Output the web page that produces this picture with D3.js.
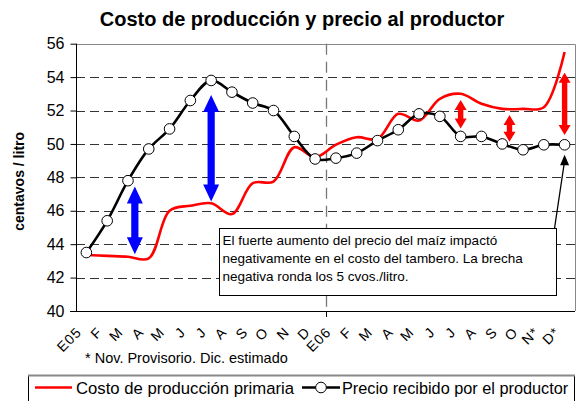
<!DOCTYPE html>
<html>
<head>
<meta charset="utf-8">
<script src="https://cdn.jsdelivr.net/npm/d3@7"></script>
<style>
  body { margin: 0; background: #fff; }
  text { font-family: Arial, "Liberation Sans", sans-serif; }
</style>
</head>
<body>
<svg width="580" height="401"></svg>
<script>
// meses (eje X)
const meses = ["E05", "F", "M", "A", "M", "J", "J", "A", "S", "O", "N", "D",
               "E06", "F", "M", "A", "M", "J", "J", "A", "S", "O", "N*", "D*"];
// centavos / litro
const costo = [43.35, 43.3, 43.25, 43.15, 46.0, 46.3, 46.45, 45.8, 47.65, 47.75, 49.8, 49.2,
               49.95, 50.4, 50.3, 51.8, 51.4, 52.7, 53.0, 52.4, 52.1, 52.1, 52.2, 55.5];
const precio = [43.5, 45.4, 47.8, 49.7, 50.9, 52.6, 53.8, 53.1, 52.45, 52.0, 50.45, 49.1,
                49.15, 49.45, 50.2, 50.85, 51.8, 51.65, 50.45, 50.45, 50.0, 49.65, 49.95, 49.95];
const yTicks = [40, 42, 44, 46, 48, 50, 52, 54, 56];
// flechas de brecha: indice de mes, valor arriba, valor abajo
const brechasAzul = [[2.33, 47.45, 43.4], [6.0, 52.93, 46.55]];
const brechasRojo = [[18.0, 52.63, 50.93], [20.35, 51.73, 50.13], [23.0, 54.26, 50.53]];

const svg = d3.select("svg");
const mLeft = 76, mRight = 575, mTop = 43.7, mBottom = 311;

const x = d3.scaleBand().domain(d3.range(meses.length)).range([mLeft, mRight]);
const cx = (i) => x(0) + x.bandwidth() / 2 + i * x.step();
const y = d3.scaleLinear().domain([40, 56]).range([mBottom, mTop]);

// title
svg.append("text")
  .attr("x", 302)
  .attr("y", 25.5)
  .attr("text-anchor", "middle")
  .attr("font-size", 20)
  .attr("font-weight", "bold")
  .text("Costo de producción y precio al productor");

// grid
svg.append("g")
  .selectAll("line")
  .data(yTicks.filter((d) => d > 40 && d < 56))
  .enter()
  .append("line")
  .attr("x1", mLeft)
  .attr("x2", mRight)
  .attr("y1", (d) => Math.round(y(d)) + 0.5)
  .attr("y2", (d) => Math.round(y(d)) + 0.5)
  .attr("stroke", "#333")
  .attr("stroke-dasharray", "9,5");

// frame top / right
svg.append("path")
  .attr("d", `M${mLeft},${Math.round(mTop) + 0.5}H${mRight + 0.5}V${mBottom}`)
  .attr("fill", "none")
  .attr("stroke", "#888");

// year separator
svg.append("line")
  .attr("x1", Math.round(x(12)) + 0.5)
  .attr("x2", Math.round(x(12)) + 0.5)
  .attr("y1", mTop)
  .attr("y2", mBottom)
  .attr("stroke", "#777")
  .attr("stroke-width", 1.3)
  .attr("stroke-dasharray", "11,7");

// y axis
const yAxis = svg.append("g")
  .attr("transform", `translate(${mLeft + 0.5},0)`)
  .call(d3.axisLeft(y).tickValues(yTicks).tickSize(6).tickPadding(6));
yAxis.select(".domain").attr("d", `M0,${mTop}V${mBottom}`);
yAxis.selectAll("text").attr("font-size", 16).attr("font-family", "Arial, 'Liberation Sans', sans-serif");

svg.append("text")
  .attr("transform", `translate(24,${(mTop + mBottom) / 2 + 4}) rotate(-90)`)
  .attr("text-anchor", "middle")
  .attr("font-size", 14)
  .attr("font-weight", "bold")
  .text("centavos / litro");

// x axis
svg.append("line")
  .attr("x1", mLeft - 6)
  .attr("x2", mRight)
  .attr("y1", mBottom + 0.5)
  .attr("y2", mBottom + 0.5)
  .attr("stroke", "#000");
svg.append("line")
  .attr("x1", Math.round(x(12)) + 0.5)
  .attr("x2", Math.round(x(12)) + 0.5)
  .attr("y1", mBottom)
  .attr("y2", mBottom + 6)
  .attr("stroke", "#000");

svg.append("g")
  .selectAll("text")
  .data(meses)
  .enter()
  .append("text")
  .attr("transform", (d, i) => `translate(${cx(i) - 4},${mBottom + 22}) rotate(-45)`)
  .attr("text-anchor", "end")
  .attr("font-size", 14)
  .attr("letter-spacing", 1)
  .text((d) => d);

svg.append("text")
  .attr("x", 85)
  .attr("y", 363)
  .attr("font-size", 14.5)
  .text("* Nov. Provisorio. Dic. estimado");

// lines
const curva = d3.line()
  .x((d, i) => cx(i))
  .y((d) => y(d))
  .curve(d3.curveCatmullRom.alpha(0.5));

svg.append("path")
  .datum(costo)
  .attr("d", curva)
  .attr("fill", "none")
  .attr("stroke", "#ff0000")
  .attr("stroke-width", 2.6);

svg.append("path")
  .datum(precio)
  .attr("d", curva)
  .attr("fill", "none")
  .attr("stroke", "#000")
  .attr("stroke-width", 2.6);

svg.append("g")
  .selectAll("circle")
  .data(precio)
  .enter()
  .append("circle")
  .attr("cx", (d, i) => cx(i))
  .attr("cy", (d) => y(d))
  .attr("r", 5.3)
  .attr("fill", "#fff")
  .attr("stroke", "#000")
  .attr("stroke-width", 1);

// double arrows
function flecha(px, y0, y1, hw, hl, sw) {
  return `M${px},${y0}L${px + hw},${y0 + hl}L${px + sw},${y0 + hl}L${px + sw},${y1 - hl}` +
    `L${px + hw},${y1 - hl}L${px},${y1}L${px - hw},${y1 - hl}L${px - sw},${y1 - hl}` +
    `L${px - sw},${y0 + hl}L${px - hw},${y0 + hl}Z`;
}

svg.append("g")
  .selectAll("path")
  .data(brechasAzul)
  .enter()
  .append("path")
  .attr("d", (d) => flecha(cx(d[0]), y(d[1]), y(d[2]), 8, 17, 3.6))
  .attr("fill", "#0000ff");

svg.append("g")
  .selectAll("path")
  .data(brechasRojo)
  .enter()
  .append("path")
  .attr("d", (d) => flecha(cx(d[0]), y(d[1]), y(d[2]), 6, 10, 2.7))
  .attr("fill", "#ff0000");

// annotation box
const box = { x: 219.5, y: 228.5, w: 337, h: 67 };
const tipX = cx(23), tipY = y(precio[23]) + 10;
svg.append("line")
  .attr("x1", box.x + box.w - 2)
  .attr("y1", box.y)
  .attr("x2", tipX - 0.3)
  .attr("y2", tipY + 8)
  .attr("stroke", "#000")
  .attr("stroke-width", 1.3);
svg.append("path")
  .attr("d", `M${tipX},${tipY}l4.5,10.5l-9,0z`)
  .attr("fill", "#000");

svg.append("rect")
  .attr("x", box.x)
  .attr("y", box.y)
  .attr("width", box.w)
  .attr("height", box.h)
  .attr("fill", "#fff")
  .attr("stroke", "#000");

const nota = ["El fuerte aumento del precio del maíz impactó",
              "negativamente en el costo del tambero. La brecha",
              "negativa ronda los 5 cvos./litro."];
svg.append("g")
  .selectAll("text")
  .data(nota)
  .enter()
  .append("text")
  .attr("x", box.x + 3)
  .attr("y", (d, i) => box.y + 16 + i * 18)
  .attr("font-size", 13.5)
  .text((d) => d);

// legend
svg.append("rect")
  .attr("x", 28.5)
  .attr("y", 375.5)
  .attr("width", 546)
  .attr("height", 40)
  .attr("fill", "#fff")
  .attr("stroke", "#000");
svg.append("line")
  .attr("x1", 28)
  .attr("x2", 575)
  .attr("y1", 375.5)
  .attr("y2", 375.5)
  .attr("stroke", "#888")
  .attr("stroke-width", 2);

svg.append("line")
  .attr("x1", 35)
  .attr("x2", 72)
  .attr("y1", 387.5)
  .attr("y2", 387.5)
  .attr("stroke", "#ff0000")
  .attr("stroke-width", 2.6);
svg.append("text")
  .attr("x", 76)
  .attr("y", 393.5)
  .attr("font-size", 16.7)
  .text("Costo de producción primaria");

svg.append("line")
  .attr("x1", 302)
  .attr("x2", 340)
  .attr("y1", 387.5)
  .attr("y2", 387.5)
  .attr("stroke", "#000")
  .attr("stroke-width", 2.6);
svg.append("circle")
  .attr("cx", 321)
  .attr("cy", 387.5)
  .attr("r", 5.3)
  .attr("fill", "#fff")
  .attr("stroke", "#000");
svg.append("text")
  .attr("x", 342)
  .attr("y", 393.5)
  .attr("font-size", 16.3)
  .text("Precio recibido por el productor");
</script>
</body>
</html>
